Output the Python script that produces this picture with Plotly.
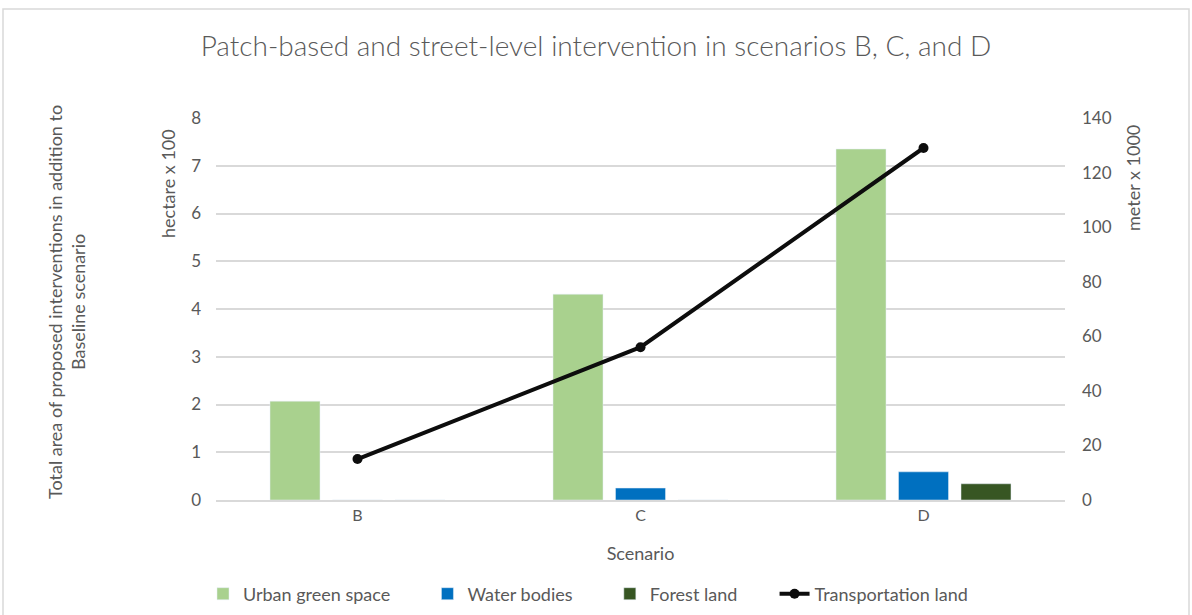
import plotly.graph_objects as go

scenarios = ["B", "C", "D"]
urban_green = [2.07, 4.31, 7.35]
water_bodies = [0.0, 0.25, 0.59]
forest_land = [0.0, 0.0, 0.34]
transportation = [15.0, 56.0, 129.0]

TXT = "#595959"
FONT = "Lato"
PAD = "\u00a0" * 7

fig = go.Figure()
fig.add_bar(x=scenarios, y=urban_green, name="Urban green space" + PAD, marker_color="#A9D18E")
fig.add_bar(x=scenarios, y=water_bodies, name="Water bodies" + PAD, marker_color="#0070C0")
fig.add_bar(x=scenarios, y=forest_land, name="Forest land" + PAD, marker_color="#375623")
fig.add_scatter(x=scenarios, y=transportation, name="Transportation land", yaxis="y2",
                mode="lines+markers", line=dict(color="#0D0D0D", width=4),
                marker=dict(size=10, color="#0D0D0D"))

L, R, T, B = 216, 127, 118, 115
PW = 1192 - L - R
PH = 615 - T - B


def px(x):
    return (x - L) / PW


def py(y):
    return (615 - B - y) / PH


fig.update_layout(
    width=1192, height=615,
    margin=dict(l=L, r=R, t=T, b=B, autoexpand=False),
    paper_bgcolor="white", plot_bgcolor="white",
    font=dict(family=FONT, color=TXT, size=16),
    barmode="group", bargap=0.3375, bargroupgap=0.2,
    title=dict(text="Patch-based and street-level intervention in scenarios B, C, and D",
               x=0.5, xanchor="center", y=1 - 46 / 615, yanchor="middle",
               font=dict(size=28, color=TXT, family=FONT, weight=300)),
    xaxis=dict(title=dict(text="Scenario", font=dict(size=18), standoff=24),
               showgrid=False, showline=True, linecolor="#D9D9D9", linewidth=1.5,
               ticks="", tickfont=dict(size=16), automargin=False),
    yaxis=dict(range=[0, 8], dtick=1, showgrid=True, gridcolor="#D9D9D9", gridwidth=1.5,
               zeroline=False, ticks="", tickfont=dict(size=17), ticklabelstandoff=14,
               automargin=False),
    yaxis2=dict(range=[0, 140], dtick=20, overlaying="y", side="right", showgrid=False,
                zeroline=False, ticks="", tickfont=dict(size=17), ticklabelstandoff=16,
                automargin=False),
    legend=dict(orientation="h", x=px(203), xanchor="left", y=py(594), yanchor="middle",
                font=dict(size=18), traceorder="normal", itemwidth=30),
    showlegend=True,
)

fig.add_annotation(text="hectare x 100", textangle=-90, xref="paper", yref="paper",
                   x=px(168), y=py(184), xanchor="center", yanchor="middle",
                   showarrow=False, font=dict(size=18, color=TXT))
fig.add_annotation(text="meter x 1000", textangle=-90, xref="paper", yref="paper",
                   x=px(1133), y=py(178), xanchor="center", yanchor="middle",
                   showarrow=False, font=dict(size=18, color=TXT))
fig.add_annotation(text="Total area of proposed interventions in addition to<br>Baseline scenario",
                   textangle=-90, xref="paper", yref="paper", x=px(66), y=py(302),
                   xanchor="center", yanchor="middle",
                   showarrow=False, font=dict(size=18, color=TXT))

fig.add_shape(type="rect", xref="paper", yref="paper",
              x0=px(3), x1=px(1189), y0=py(640), y1=py(9),
              line=dict(color="#D9D9D9", width=1.5), fillcolor="rgba(0,0,0,0)", layer="below")

fig.write_html("out.html")
